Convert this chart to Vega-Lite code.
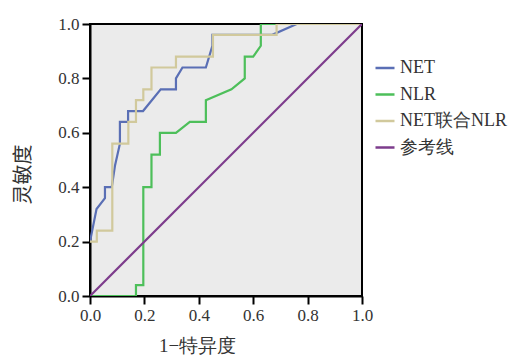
{
  "$schema": "https://vega.github.io/schema/vega-lite/v6.json",
  "width": 272,
  "height": 272,
  "autosize": "none",
  "padding": {"left": 90, "top": 24, "right": 167, "bottom": 60},
  "background": "white",
  "config": {
    "view": {"fill": "#ebebeb", "stroke": "black", "strokeWidth": 2},
    "font": "DejaVu Serif"
  },
  "data": {"values": [
    {"s":"NET","i":0,"x":0,"y":0.2},
    {"s":"NET","i":1,"x":0.024,"y":0.32},
    {"s":"NET","i":2,"x":0.055,"y":0.36},
    {"s":"NET","i":3,"x":0.055,"y":0.40},
    {"s":"NET","i":4,"x":0.08,"y":0.40},
    {"s":"NET","i":5,"x":0.092,"y":0.48},
    {"s":"NET","i":6,"x":0.11,"y":0.56},
    {"s":"NET","i":7,"x":0.11,"y":0.64},
    {"s":"NET","i":8,"x":0.14,"y":0.64},
    {"s":"NET","i":9,"x":0.14,"y":0.68},
    {"s":"NET","i":10,"x":0.195,"y":0.68},
    {"s":"NET","i":11,"x":0.26,"y":0.76},
    {"s":"NET","i":12,"x":0.316,"y":0.76},
    {"s":"NET","i":13,"x":0.316,"y":0.80},
    {"s":"NET","i":14,"x":0.34,"y":0.84},
    {"s":"NET","i":15,"x":0.426,"y":0.84},
    {"s":"NET","i":16,"x":0.45,"y":0.92},
    {"s":"NET","i":17,"x":0.45,"y":0.96},
    {"s":"NET","i":18,"x":0.67,"y":0.96},
    {"s":"NET","i":19,"x":0.76,"y":1.0},
    {"s":"NET","i":20,"x":1,"y":1.0},
    {"s":"NLR","i":0,"x":0,"y":0},
    {"s":"NLR","i":1,"x":0.169,"y":0},
    {"s":"NLR","i":2,"x":0.169,"y":0.04},
    {"s":"NLR","i":3,"x":0.196,"y":0.04},
    {"s":"NLR","i":4,"x":0.196,"y":0.40},
    {"s":"NLR","i":5,"x":0.226,"y":0.40},
    {"s":"NLR","i":6,"x":0.226,"y":0.52},
    {"s":"NLR","i":7,"x":0.257,"y":0.52},
    {"s":"NLR","i":8,"x":0.257,"y":0.60},
    {"s":"NLR","i":9,"x":0.316,"y":0.60},
    {"s":"NLR","i":10,"x":0.367,"y":0.64},
    {"s":"NLR","i":11,"x":0.426,"y":0.64},
    {"s":"NLR","i":12,"x":0.426,"y":0.72},
    {"s":"NLR","i":13,"x":0.52,"y":0.76},
    {"s":"NLR","i":14,"x":0.569,"y":0.80},
    {"s":"NLR","i":15,"x":0.569,"y":0.88},
    {"s":"NLR","i":16,"x":0.6,"y":0.88},
    {"s":"NLR","i":17,"x":0.628,"y":0.92},
    {"s":"NLR","i":18,"x":0.628,"y":1.0},
    {"s":"NLR","i":19,"x":1,"y":1.0},
    {"s":"NET联合NLR","i":0,"x":0,"y":0.2},
    {"s":"NET联合NLR","i":1,"x":0.025,"y":0.2},
    {"s":"NET联合NLR","i":2,"x":0.025,"y":0.24},
    {"s":"NET联合NLR","i":3,"x":0.082,"y":0.24},
    {"s":"NET联合NLR","i":4,"x":0.082,"y":0.56},
    {"s":"NET联合NLR","i":5,"x":0.141,"y":0.56},
    {"s":"NET联合NLR","i":6,"x":0.141,"y":0.64},
    {"s":"NET联合NLR","i":7,"x":0.169,"y":0.64},
    {"s":"NET联合NLR","i":8,"x":0.169,"y":0.72},
    {"s":"NET联合NLR","i":9,"x":0.196,"y":0.72},
    {"s":"NET联合NLR","i":10,"x":0.196,"y":0.76},
    {"s":"NET联合NLR","i":11,"x":0.226,"y":0.76},
    {"s":"NET联合NLR","i":12,"x":0.226,"y":0.84},
    {"s":"NET联合NLR","i":13,"x":0.316,"y":0.84},
    {"s":"NET联合NLR","i":14,"x":0.316,"y":0.88},
    {"s":"NET联合NLR","i":15,"x":0.452,"y":0.88},
    {"s":"NET联合NLR","i":16,"x":0.452,"y":0.96},
    {"s":"NET联合NLR","i":17,"x":0.686,"y":0.96},
    {"s":"NET联合NLR","i":18,"x":0.686,"y":1.0},
    {"s":"NET联合NLR","i":19,"x":1,"y":1.0},
    {"s":"参考线","i":0,"x":0,"y":0},
    {"s":"参考线","i":1,"x":1,"y":1}
  ]},
  "mark": {"type": "line", "strokeWidth": 2.2, "clip": true},
  "encoding": {
    "x": {"field": "x", "type": "quantitative",
      "scale": {"domain": [0, 1], "nice": false, "zero": false},
      "axis": {"values": [0,0.2,0.4,0.6,0.8,1.0], "format": ".1f", "grid": false,
        "title": "1−特异度", "titleFont": "Liberation Serif", "titleFontSize": 19, "titleFontWeight": "normal", "titleColor": "#333",
        "titleX": 107, "titleY": 40, "titleAnchor": "middle", "titleAlign": "center",
        "labelFont": "Liberation Serif", "labelFontSize": 17, "labelColor": "#333", "labelPadding": 3, "labelFlush": false,
        "domainColor": "black", "domainWidth": 2, "tickColor": "black", "tickWidth": 2, "tickSize": 8}},
    "y": {"field": "y", "type": "quantitative",
      "scale": {"domain": [0, 1], "nice": false, "zero": false},
      "axis": {"values": [0,0.2,0.4,0.6,0.8,1.0], "format": ".1f", "grid": false,
        "title": "灵敏度", "titleFont": "Noto Sans CJK SC", "titleFontSize": 20, "titleFontWeight": "normal", "titleColor": "#333",
        "titleX": -67, "titleY": 150, "titleAlign": "center", "titleBaseline": "middle", "titleAngle": -90,
        "labelFont": "Liberation Serif", "labelFontSize": 17, "labelColor": "#333", "labelPadding": 3, "labelFlush": false,
        "domainColor": "black", "domainWidth": 2, "tickColor": "black", "tickWidth": 2, "tickSize": 8}},
    "color": {"field": "s", "type": "nominal",
      "scale": {"domain": ["NET","NLR","NET联合NLR","参考线"], "range": ["#5a6fb5","#4dbf5a","#d1c99c","#7d3c8c"]},
      "legend": {"title": null, "orient": "none", "legendX": 284, "legendY": 33,
        "symbolType": "stroke", "symbolSize": 361, "symbolStrokeWidth": 2.5,
        "labelFont": "Liberation Serif", "labelFontSize": 18, "labelColor": "#333",
        "rowPadding": 6.5, "labelOffset": 4}},
    "order": {"field": "i", "type": "quantitative"}
  }
}
